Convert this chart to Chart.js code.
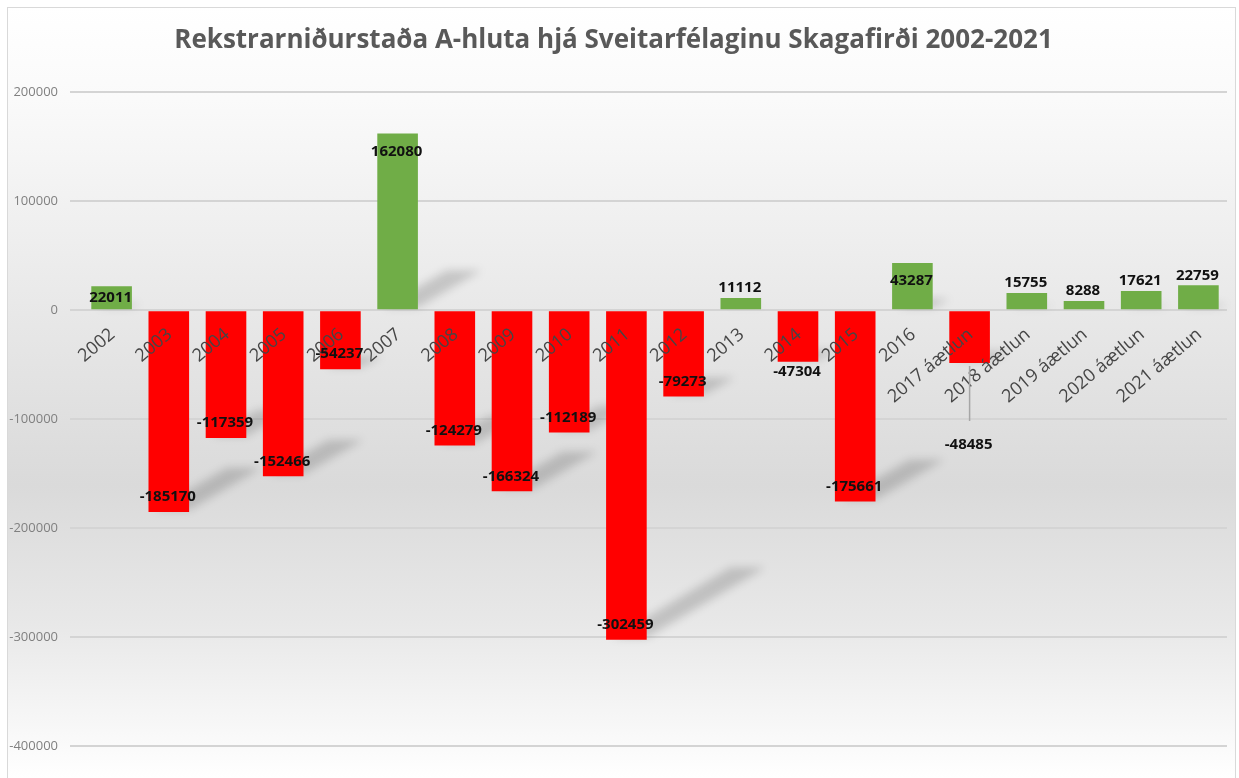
<!DOCTYPE html>
<html>
<head>
<meta charset="utf-8">
<script src="https://cdn.jsdelivr.net/npm/chart.js@4"></script>
<style>
  html, body { margin: 0; padding: 0; background: #ffffff; }
  #wrap { width: 1239px; height: 778px; }
</style>
</head>
<body>
<div id="wrap"><canvas id="resultChart" width="1239" height="778"></canvas></div>
<script>
const categories = [
  "2002", "2003", "2004", "2005", "2006", "2007", "2008", "2009", "2010", "2011",
  "2012", "2013", "2014", "2015", "2016",
  "2017 áætlun", "2018 áætlun", "2019 áætlun", "2020 áætlun", "2021 áætlun"
];
const results = [
  22011, -185170, -117359, -152466, -54237, 162080, -124279, -166324, -112189, -302459,
  -79273, 11112, -47304, -175661, 43287,
  -48485, 15755, 8288, 17621, 22759
];
// where Excel put each value label: inside the bar end, outside it, or pulled away with a leader line
const labelPlacement = [
  "in", "in", "in", "in", "in", "in", "in", "in", "in", "in",
  "in", "out", "out", "in", "in",
  "leader", "out", "out", "out", "out"
];
const yTicks = [200000, 100000, 0, -100000, -200000, -300000, -400000];

const TITLE = "Rekstrarniðurstaða A-hluta hjá Sveitarfélaginu Skagafirði 2002-2021";
const GREEN = "#70ad47";
const RED = "#ff0000";
const FONT = "'Open Sans', 'DejaVu Sans', sans-serif";

// light frame with the grey band gradient behind everything
const backgroundPlugin = {
  id: "bg",
  beforeDraw(chart) {
    const ctx = chart.ctx;
    const w = chart.width, h = chart.height;
    ctx.save();
    ctx.fillStyle = "#ffffff";
    ctx.fillRect(0, 0, w, h);
    const g = ctx.createLinearGradient(0, 7, 0, h);
    g.addColorStop(0, "#ffffff");
    g.addColorStop(0.12, "#fafafa");
    g.addColorStop(0.35, "#ebebeb");
    g.addColorStop(0.62, "#dadada");
    g.addColorStop(0.8, "#e8e8e8");
    g.addColorStop(1, "#ffffff");
    ctx.fillStyle = g;
    ctx.fillRect(7, 7, w - 10, h - 7);
    ctx.strokeStyle = "#d9d9d9";
    ctx.lineWidth = 1;
    ctx.strokeRect(7.5, 7.5, w - 11, h - 4);
    ctx.restore();
  }
};

// soft perspective shadow falling back and to the right from each bar's lower edge
const shadowPlugin = {
  id: "barShadows",
  beforeDatasetsDraw(chart) {
    const ctx = chart.ctx;
    const meta = chart.getDatasetMeta(0);
    ctx.save();
    ctx.filter = "blur(4px)";
    ctx.fillStyle = "rgba(0,0,0,0.16)";
    meta.data.forEach((bar) => {
      const left = bar.x - bar.width / 2;
      const right = bar.x + bar.width / 2;
      const bottom = Math.max(bar.y, bar.base);
      const h = Math.abs(bar.base - bar.y);
      const dx = h * 0.36, dy = h * 0.22;
      ctx.beginPath();
      ctx.moveTo(left + 6, bottom - 2);
      ctx.lineTo(right, bottom - 2);
      ctx.lineTo(right + dx, bottom - dy);
      ctx.lineTo(left + dx + 6, bottom - dy);
      ctx.closePath();
      ctx.fill();
    });
    ctx.restore();
  }
};

// category names sit on the zero line, slanted, and value labels go on top
const labelsPlugin = {
  id: "labels",
  afterDatasetsDraw(chart) {
    const ctx = chart.ctx;
    const x = chart.scales.x;
    const y = chart.scales.y;
    const zero = y.getPixelForValue(0);
    const meta = chart.getDatasetMeta(0);

    ctx.save();
    ctx.font = "18px " + FONT;
    ctx.fillStyle = "#454545";
    ctx.textAlign = "right";
    ctx.textBaseline = "middle";
    categories.forEach((name, i) => {
      ctx.save();
      ctx.translate(x.getPixelForValue(i) + 1, zero + 22);
      ctx.rotate(-40 * Math.PI / 180);
      ctx.fillText(name, 0, 0);
      ctx.restore();
    });
    ctx.restore();

    ctx.save();
    ctx.font = "bold 15px " + FONT;
    ctx.fillStyle = "#111111";
    ctx.textAlign = "center";
    ctx.textBaseline = "middle";
    meta.data.forEach((bar, i) => {
      const v = results[i];
      const h = Math.abs(bar.base - bar.y);
      const place = labelPlacement[i];
      let ly;
      if (place === "in") {
        const inset = Math.min(v > 0 ? 18 : 15, h / 2);
        ly = v > 0 ? bar.y + inset : bar.y - inset;
      } else if (place === "out") {
        ly = v > 0 ? bar.y - 10 : bar.y + 10;
      } else {
        ctx.strokeStyle = "#a6a6a6";
        ctx.lineWidth = 1.5;
        ctx.beginPath();
        ctx.moveTo(bar.x, bar.y + 3);
        ctx.lineTo(bar.x, bar.y + 58);
        ctx.stroke();
        ly = bar.y + 82;
      }
      ctx.fillText(String(v), bar.x - 1, ly);
    });
    ctx.restore();
  }
};

const ctx = document.getElementById("resultChart").getContext("2d");
const chart = new Chart(ctx, {
  type: "bar",
  data: {
    labels: categories,
    datasets: [{
      label: "Rekstrarniðurstaða",
      data: results,
      backgroundColor: (c) => (c.raw >= 0 ? GREEN : RED),
      borderWidth: 0,
      barPercentage: 0.71,
      categoryPercentage: 1.0
    }]
  },
  options: {
    responsive: false,
    animation: false,
    devicePixelRatio: 1,
    layout: { padding: { left: 0, right: 12, top: 0, bottom: 32 } },
    plugins: {
      legend: { display: false },
      tooltip: { enabled: false },
      title: {
        display: true,
        text: TITLE,
        color: "#595959",
        font: { family: FONT, size: 26, weight: "bold" },
        padding: { top: 25, bottom: 36 }
      }
    },
    scales: {
      x: {
        display: false,
        offset: true
      },
      y: {
        min: -400000,
        max: 200000,
        afterFit: (scale) => { scale.width = 83; },
        afterBuildTicks: (scale) => {
          scale.ticks = yTicks.map((v) => ({ value: v }));
        },
        ticks: {
          color: "#808080",
          padding: 12,
          font: { family: FONT, size: 13 },
          callback: (v) => String(v)
        },
        grid: {
          color: "#d4d4d4",
          lineWidth: 2,
          drawTicks: true,
          tickLength: 13,
          tickColor: "#d4d4d4"
        },
        border: { display: false }
      }
    }
  },
  plugins: [backgroundPlugin, shadowPlugin, labelsPlugin]
});
</script>
</body>
</html>
